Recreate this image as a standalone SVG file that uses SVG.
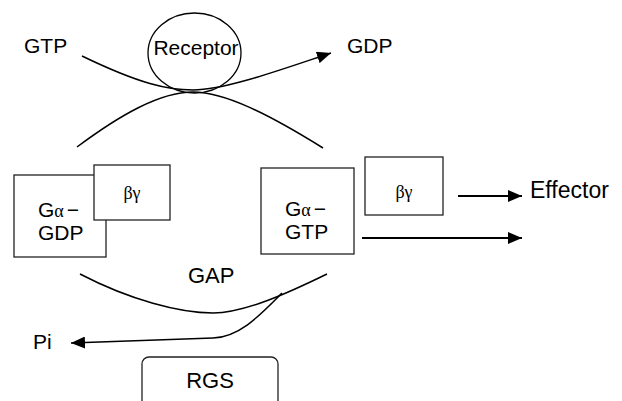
<svg xmlns="http://www.w3.org/2000/svg" width="622" height="401" viewBox="0 0 622 401">
<style>
text{font-family:"Liberation Sans",Arial,sans-serif;fill:#000}
.lbl{font-size:21px}
.big{font-size:22px}
.eff{font-size:23px}
.greek{font-family:"Liberation Serif","Times New Roman",serif;font-size:18px}
.box{fill:#fff;stroke:#222;stroke-width:1.3}
.curve{fill:none;stroke:#000;stroke-width:1.5}
.arr{fill:none;stroke:#000;stroke-width:2}
</style>
<defs>
<marker id="ah" markerUnits="userSpaceOnUse" markerWidth="16" markerHeight="12" refX="14" refY="6" orient="auto">
<path d="M0,0 L14,6 L0,12 Z" fill="#000"/>
</marker>
</defs>
<g id="connectors">
<path class="curve" d="M82,56 C140,84 168,90 193,90 C225,90 280,70 331,53" marker-end="url(#ah)"/>
<path class="curve" d="M77,147 C120,115 160,92 193,92 C225,92 270,115 323,148"/>
<path class="curve" d="M80,274 C130,300 180,313 213,313 C245,313 290,292 327,274"/>
<path class="curve" d="M282,293 C260,315 240,337 213,338 L71,343" marker-end="url(#ah)"/>
<path class="arr" d="M458,196 L522,196" marker-end="url(#ah)"/>
<path class="arr" d="M362,238 L522,238" marker-end="url(#ah)"/>
</g>
<g id="receptor">
<ellipse cx="194.5" cy="53" rx="46.5" ry="40" fill="none" stroke="#000" stroke-width="1.3"/>
<text class="lbl" x="196" y="55" text-anchor="middle">Receptor</text>
</g>
<g id="gtp"><text class="lbl" x="24" y="53">GTP</text></g>
<g id="gdp"><text class="lbl" x="347" y="53">GDP</text></g>
<g id="ga-gdp">
<rect class="box" x="14" y="175" width="92" height="82"/>
<text class="lbl" x="38" y="217">G<tspan class="greek">α</tspan><tspan dx="3">−</tspan></text>
<text class="lbl" x="38" y="240">GDP</text>
</g>
<g id="bg-left">
<rect class="box" x="94" y="165" width="76" height="55"/>
<text class="greek" x="132" y="199" text-anchor="middle">βγ</text>
</g>
<g id="ga-gtp">
<rect class="box" x="261" y="168" width="93" height="86"/>
<text class="lbl" x="285" y="216">G<tspan class="greek">α</tspan><tspan dx="3">−</tspan></text>
<text class="lbl" x="285" y="239">GTP</text>
</g>
<g id="bg-right">
<rect class="box" x="365" y="157" width="78" height="58"/>
<text class="greek" x="404" y="198" text-anchor="middle">βγ</text>
</g>
<g id="effector"><text class="eff" x="530" y="198">Effector</text></g>
<g id="gap"><text class="big" x="188" y="283">GAP</text></g>
<g id="pi"><text class="lbl" x="33" y="349">Pi</text></g>
<g id="rgs">
<rect class="box" x="142" y="357" width="136" height="60" rx="7"/>
<text class="big" x="210" y="388" text-anchor="middle">RGS</text>
</g>
</svg>
